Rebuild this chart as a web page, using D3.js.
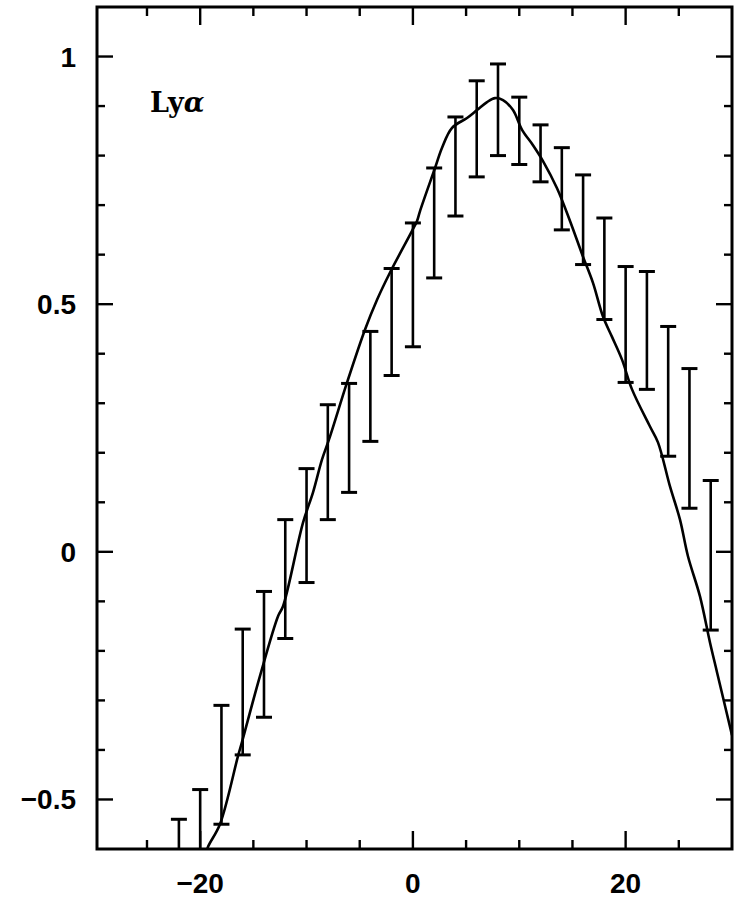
<!DOCTYPE html>
<html>
<head>
<meta charset="utf-8">
<script src="https://cdn.jsdelivr.net/npm/d3@7"></script>
<style>
  html, body { margin: 0; padding: 0; background: #fff; }
  svg { display: block; }
</style>
</head>
<body>
<script>
// ---- data ----
const barX  = [-22, -20, -18, -16, -14, -12, -10, -8, -6, -4, -2, 0, 2, 4, 6, 8, 10, 12, 14, 16, 18, 20, 22, 24, 26, 28];
const barHi = [-0.54, -0.48, -0.31, -0.156, -0.08, 0.065, 0.168, 0.297, 0.34, 0.445, 0.572, 0.664, 0.775, 0.878, 0.951, 0.985, 0.918, 0.862, 0.816, 0.761, 0.674, 0.576, 0.566, 0.455, 0.37, 0.144];
const barLo = [-0.7, -0.7, -0.55, -0.41, -0.334, -0.175, -0.062, 0.065, 0.12, 0.223, 0.356, 0.414, 0.553, 0.678, 0.757, 0.80, 0.782, 0.747, 0.65, 0.58, 0.469, 0.342, 0.328, 0.193, 0.088, -0.158];

const curveX = [-19.6, -19.27, -18.14, -16.44, -16.07, -14.38, -12.68, -12.21, -10.33, -9.39, -8.55, -7.79, -6.19, -4.5, -3.37, -2.15, -0.08, 0.39, 0.67, 2.08, 2.74, 3.68, 5.09, 6.03, 6.97, 7.72, 8.47, 9.41, 10.26, 11.29, 12.23, 13.55, 14.77, 15.99, 16.93, 17.87, 18.72, 19.66, 20.6, 22.29, 23.04, 24.17, 25.11, 25.86, 26.99, 27.93, 28.59, 30];
const curveY = [-0.62, -0.596, -0.55, -0.412, -0.384, -0.251, -0.13, -0.11, 0.059, 0.12, 0.186, 0.233, 0.342, 0.449, 0.509, 0.564, 0.648, 0.668, 0.688, 0.775, 0.816, 0.856, 0.876, 0.892, 0.908, 0.916, 0.912, 0.892, 0.852, 0.821, 0.789, 0.734, 0.668, 0.596, 0.543, 0.475, 0.434, 0.388, 0.328, 0.253, 0.221, 0.132, 0.065, -0.009, -0.09, -0.183, -0.243, -0.37];

const xTicksMajor = [-20, 0, 20];
const xTicksMinor = [-25, -15, -10, -5, 5, 10, 15, 25];
const xTickLabels = ["\u221220", "0", "20"];
const yTicksMajor = [-0.5, 0, 0.5, 1];
const yTicksMinor = [-0.4, -0.3, -0.2, -0.1, 0.1, 0.2, 0.3, 0.4, 0.6, 0.7, 0.8, 0.9];
const yTickLabels = ["\u22120.5", "0", "0.5", "1"];
const panelLabel = "Ly";
const panelLabelGreek = "\u03b1";

// ---- layout ----
const W = 744, H = 908;
const L = 97, R = 732, T = 7, B = 849;

const x = d3.scaleLinear().domain([-29.7, 30]).range([L, R]);
const y = d3.scaleLinear().domain([-0.6, 1.1]).range([B, T]);

const svg = d3.select("body").append("svg").attr("width", W).attr("height", H);
svg.append("rect").attr("width", W).attr("height", H).attr("fill", "#fff");

svg.append("defs").append("clipPath").attr("id", "clip")
  .append("rect").attr("x", L).attr("y", T).attr("width", R - L).attr("height", B - T);

const plot = svg.append("g").attr("clip-path", "url(#clip)");

// error bars
const bars = d3.range(barX.length).map(i => ({x: barX[i], lo: barLo[i], hi: barHi[i]}));
const capW = 8;
plot.selectAll("line.bar").data(bars).enter().append("line")
  .attr("x1", d => x(d.x)).attr("x2", d => x(d.x))
  .attr("y1", d => y(d.lo)).attr("y2", d => y(d.hi))
  .attr("stroke", "#000").attr("stroke-width", 2.6);
plot.selectAll("line.capHi").data(bars).enter().append("line")
  .attr("x1", d => x(d.x) - capW).attr("x2", d => x(d.x) + capW)
  .attr("y1", d => y(d.hi)).attr("y2", d => y(d.hi))
  .attr("stroke", "#000").attr("stroke-width", 3);
plot.selectAll("line.capLo").data(bars.filter(d => d.lo > -0.6)).enter().append("line")
  .attr("x1", d => x(d.x) - capW).attr("x2", d => x(d.x) + capW)
  .attr("y1", d => y(d.lo)).attr("y2", d => y(d.lo))
  .attr("stroke", "#000").attr("stroke-width", 3);

// curve
const pts = d3.range(curveX.length).map(i => [curveX[i], curveY[i]]);
plot.append("path").datum(pts)
  .attr("d", d3.line().x(d => x(d[0])).y(d => y(d[1])).curve(d3.curveCatmullRom.alpha(0.5)))
  .attr("fill", "none").attr("stroke", "#000").attr("stroke-width", 2.6)
  .attr("stroke-linejoin", "round");

// frame
svg.append("rect").attr("x", L).attr("y", T).attr("width", R - L).attr("height", B - T)
  .attr("fill", "none").attr("stroke", "#000").attr("stroke-width", 3);

// ticks (inward, all four sides)
const majLen = 18, minLen = 9;
const tk = svg.append("g").attr("stroke", "#000").attr("stroke-width", 2.4);
function xTicks(vals, len) {
  vals.forEach(v => {
    tk.append("line").attr("x1", x(v)).attr("x2", x(v)).attr("y1", B).attr("y2", B - len);
    tk.append("line").attr("x1", x(v)).attr("x2", x(v)).attr("y1", T).attr("y2", T + len);
  });
}
function yTicks(vals, len) {
  vals.forEach(v => {
    tk.append("line").attr("x1", L).attr("x2", L + len).attr("y1", y(v)).attr("y2", y(v));
    tk.append("line").attr("x1", R).attr("x2", R - len).attr("y1", y(v)).attr("y2", y(v));
  });
}
xTicks(xTicksMajor, majLen);
xTicks(xTicksMinor, minLen);
yTicks(yTicksMajor, majLen - 2);
yTicks(yTicksMinor, minLen - 1);

// tick labels
const lab = svg.append("g").attr("font-family", "'Liberation Sans', Arial, sans-serif")
  .attr("font-weight", "bold").attr("font-size", 28).attr("fill", "#000");
xTicksMajor.forEach((v, i) => {
  lab.append("text").attr("x", x(v)).attr("y", 893).attr("text-anchor", "middle").text(xTickLabels[i]);
});
yTicksMajor.forEach((v, i) => {
  lab.append("text").attr("x", 76).attr("y", y(v) + 10).attr("text-anchor", "end").text(yTickLabels[i]);
});

// panel label
const pl = svg.append("text").attr("x", 150).attr("y", 112)
  .attr("font-family", "'DejaVu Serif', 'Liberation Serif', serif")
  .attr("font-weight", "bold").attr("font-size", 27).attr("fill", "#000");
pl.append("tspan").text(panelLabel);
pl.append("tspan").attr("font-style", "italic").text(panelLabelGreek);
</script>
</body>
</html>
